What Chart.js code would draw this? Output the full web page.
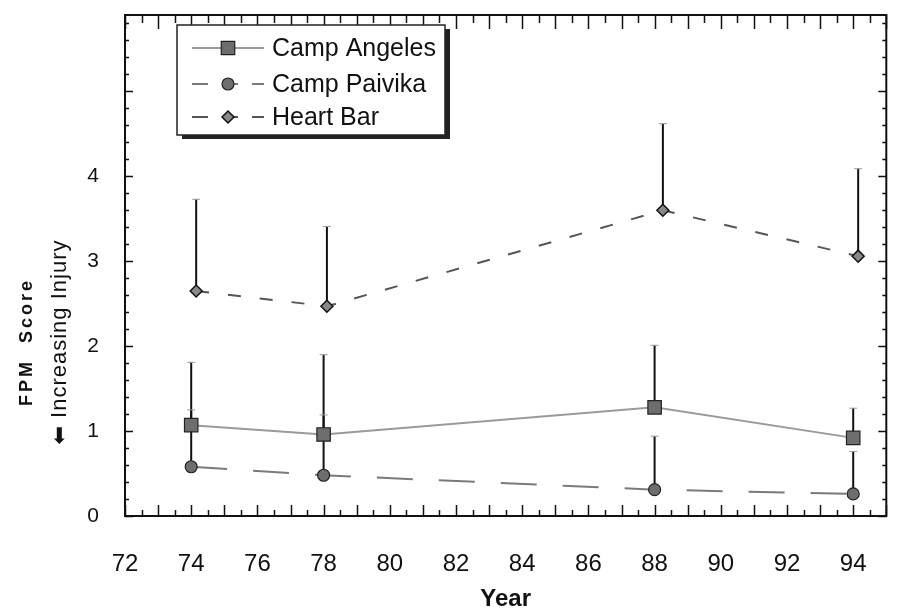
<!DOCTYPE html>
<html>
<head>
<meta charset="utf-8">
<script src="https://cdn.jsdelivr.net/npm/chart.js@4.4.0/dist/chart.umd.min.js"></script>
<style>
  html, body { margin: 0; padding: 0; background: #fff; }
  #wrap { width: 897px; height: 614px; }
</style>
</head>
<body>
<div id="wrap"><canvas id="fpmChart"></canvas></div>
<script>
// Data (upper ends of the error bars kept separately)
const years = [74, 78, 88, 94];
const heartYears = [74.15, 78.1, 88.25, 94.15];

const angeles = [1.07, 0.96, 1.28, 0.92];
const angelesTop = [1.81, 1.90, 2.01, 1.27];

const paivika = [0.58, 0.48, 0.31, 0.26];
const paivikaTop = [1.25, 1.19, 0.94, 0.76];

const heartBar = [2.65, 2.47, 3.60, 3.06];
const heartBarTop = [3.73, 3.41, 4.62, 4.09];

const seriesNames = ['Camp Angeles', 'Camp Paivika', 'Heart Bar'];
const xTickLabels = [72, 74, 76, 78, 80, 82, 84, 86, 88, 90, 92, 94];
const yTickLabels = [0, 1, 2, 3, 4];

const toPoints = (xs, ys) => xs.map((x, i) => ({ x: x, y: ys[i] }));

const data = {
    datasets: [
        {
            label: seriesNames[0],
            data: toPoints(years, angeles),
            errTop: angelesTop,
            borderColor: '#9a9a9a',
            borderWidth: 2,
            pointStyle: 'rect',
            pointRadius: 9.5,
            pointBackgroundColor: '#6e6e6e',
            pointBorderColor: '#222',
            pointBorderWidth: 1.2
        },
        {
            label: seriesNames[1],
            data: toPoints(years, paivika),
            errTop: paivikaTop,
            borderColor: '#7a7a7a',
            borderWidth: 2,
            borderDash: [36, 26],
            pointStyle: 'circle',
            pointRadius: 6,
            pointBackgroundColor: '#6e6e6e',
            pointBorderColor: '#222',
            pointBorderWidth: 1.2
        },
        {
            label: seriesNames[2],
            data: toPoints(heartYears, heartBar),
            errTop: heartBarTop,
            borderColor: '#555',
            borderWidth: 2,
            borderDash: [13, 19],
            pointStyle: 'rectRot',
            pointRadius: 6,
            pointBackgroundColor: '#888',
            pointBorderColor: '#111',
            pointBorderWidth: 1.5
        }
    ]
};

// vertical error bars, drawn under the markers
const errorBars = {
    id: 'errorBars',
    beforeDatasetsDraw(chart) {
        const ctx = chart.ctx;
        const yScale = chart.scales.y;
        ctx.save();
        chart.data.datasets.forEach((ds, di) => {
            const meta = chart.getDatasetMeta(di);
            meta.data.forEach((pt, i) => {
                const yTop = yScale.getPixelForValue(ds.errTop[i]);
                ctx.strokeStyle = '#111';
                ctx.lineWidth = 2;
                ctx.beginPath();
                ctx.moveTo(pt.x, pt.y);
                ctx.lineTo(pt.x, yTop);
                ctx.stroke();
                ctx.strokeStyle = '#999';
                ctx.lineWidth = 1;
                ctx.beginPath();
                ctx.moveTo(pt.x - 4, yTop);
                ctx.lineTo(pt.x + 4, yTop);
                ctx.stroke();
            });
        });
        ctx.restore();
    }
};

// frame with inward ticks on all four sides
const frameTicks = {
    id: 'frameTicks',
    afterDraw(chart) {
        const ctx = chart.ctx;
        const a = chart.chartArea;
        const xs = chart.scales.x, ys = chart.scales.y;
        ctx.save();
        ctx.strokeStyle = '#111';
        ctx.lineWidth = 2;
        ctx.strokeRect(a.left, a.top, a.right - a.left, a.bottom - a.top);
        ctx.lineWidth = 1.5;
        ctx.beginPath();
        for (let v = xs.min; v <= xs.max + 1e-6; v += 0.5) {
            const px = Math.round(xs.getPixelForValue(v)) + 0.5;
            const major = Math.abs(v - Math.round(v)) < 1e-6;
            const len = major ? 11 : 6;
            ctx.moveTo(px, a.bottom);
            ctx.lineTo(px, a.bottom - len);
            ctx.moveTo(px, a.top);
            ctx.lineTo(px, a.top + (major ? 14 : 8));
        }
        for (let v = 0; v <= ys.max + 1e-6; v += 0.2) {
            const py = Math.round(ys.getPixelForValue(v)) + 0.5;
            const major = Math.abs(v - Math.round(v)) < 1e-6;
            const len = major ? 8 : 4;
            ctx.moveTo(a.left, py);
            ctx.lineTo(a.left + len, py);
            ctx.moveTo(a.right, py);
            ctx.lineTo(a.right - len, py);
        }
        ctx.stroke();
        ctx.restore();
    }
};

// boxed legend with drop shadow inside the plot
const boxLegend = {
    id: 'boxLegend',
    afterDraw(chart) {
        const ctx = chart.ctx;
        const bx = 177, by = 25, bw = 268, bh = 110;
        ctx.save();
        ctx.fillStyle = '#222';
        ctx.fillRect(bx + 5, by + 4, bw, bh);
        ctx.fillStyle = '#fff';
        ctx.fillRect(bx, by, bw, bh);
        ctx.strokeStyle = '#222';
        ctx.lineWidth = 1.5;
        ctx.strokeRect(bx, by, bw, bh);
        const rowY = [48, 84, 117];
        chart.data.datasets.forEach((ds, i) => {
            const y = rowY[i];
            ctx.strokeStyle = ds.borderColor;
            ctx.lineWidth = 2;
            ctx.setLineDash(ds.borderDash ? [16, 14] : []);
            ctx.beginPath();
            ctx.moveTo(192, y);
            ctx.lineTo(264, y);
            ctx.stroke();
            ctx.setLineDash([]);
            ctx.fillStyle = ds.pointBackgroundColor;
            ctx.strokeStyle = ds.pointBorderColor;
            ctx.lineWidth = ds.pointBorderWidth;
            Chart.helpers.drawPoint(ctx, { pointStyle: ds.pointStyle, radius: ds.pointRadius, borderWidth: ds.pointBorderWidth }, 228, y);
            ctx.fillStyle = '#111';
            ctx.font = '25px "Liberation Sans", Arial, sans-serif';
            ctx.textBaseline = 'middle';
            ctx.fillText(ds.label, 272, y + 1);
        });
        ctx.restore();
    }
};

// two-line y axis title: bold score name and the direction note
const yTitle = {
    id: 'yTitle',
    afterDraw(chart) {
        const ctx = chart.ctx;
        ctx.save();
        ctx.fillStyle = '#111';
        ctx.textAlign = 'center';
        ctx.textBaseline = 'middle';
        ctx.translate(27, 342);
        ctx.rotate(-Math.PI / 2);
        ctx.font = 'bold 18px "Liberation Sans", Arial, sans-serif';
        ctx.letterSpacing = '3px';
        ctx.fillText('FPM  Score', 0, 0);
        ctx.restore();
        ctx.save();
        ctx.fillStyle = '#111';
        ctx.textAlign = 'center';
        ctx.textBaseline = 'middle';
        ctx.translate(60, 342);
        ctx.rotate(-Math.PI / 2);
        ctx.font = '22px "Liberation Sans", "DejaVu Sans", Arial, sans-serif';
        ctx.letterSpacing = '1px';
        ctx.fillText('\u2B05 Increasing Injury', 0, 0);
        ctx.restore();
    }
};

const config = {
    type: 'line',
    data: data,
    options: {
        responsive: true,
        maintainAspectRatio: false,
        animation: false,
        layout: { padding: { top: 15, right: 4, left: 0, bottom: 0 } },
        plugins: {
            legend: { display: false },
            tooltip: { enabled: false }
        },
        scales: {
            x: {
                type: 'linear',
                min: 72,
                max: 95,
                grid: { display: false },
                border: { display: false },
                afterFit(scale) {
                    scale.height = 98;
                    scale.paddingLeft = 0;
                    scale.paddingRight = 0;
                },
                afterBuildTicks(scale) { scale.ticks = xTickLabels.map(v => ({ value: v })); },
                ticks: {
                    color: '#111',
                    padding: 26,
                    maxRotation: 0,
                    font: { size: 24, family: '"Liberation Sans", Arial, sans-serif' }
                },
                title: {
                    display: true,
                    text: 'Year',
                    color: '#111',
                    padding: { top: 0, bottom: 0 },
                    font: { size: 24, weight: 'bold', family: '"Liberation Sans", Arial, sans-serif' }
                }
            },
            y: {
                min: 0,
                max: 5.9,
                grid: { display: false },
                border: { display: false },
                afterFit(scale) {
                    scale.width = 125;
                    scale.paddingTop = 0;
                    scale.paddingBottom = 0;
                },
                afterBuildTicks(scale) { scale.ticks = yTickLabels.map(v => ({ value: v })); },
                ticks: {
                    color: '#111',
                    padding: 18,
                    font: { size: 21, family: '"Liberation Sans", Arial, sans-serif' }
                }
            }
        }
    },
    plugins: [errorBars, frameTicks, boxLegend, yTitle]
};

window.onload = function() {
    const ctx = document.getElementById('fpmChart').getContext('2d');
    new Chart(ctx, config);
};
</script>
</body>
</html>
